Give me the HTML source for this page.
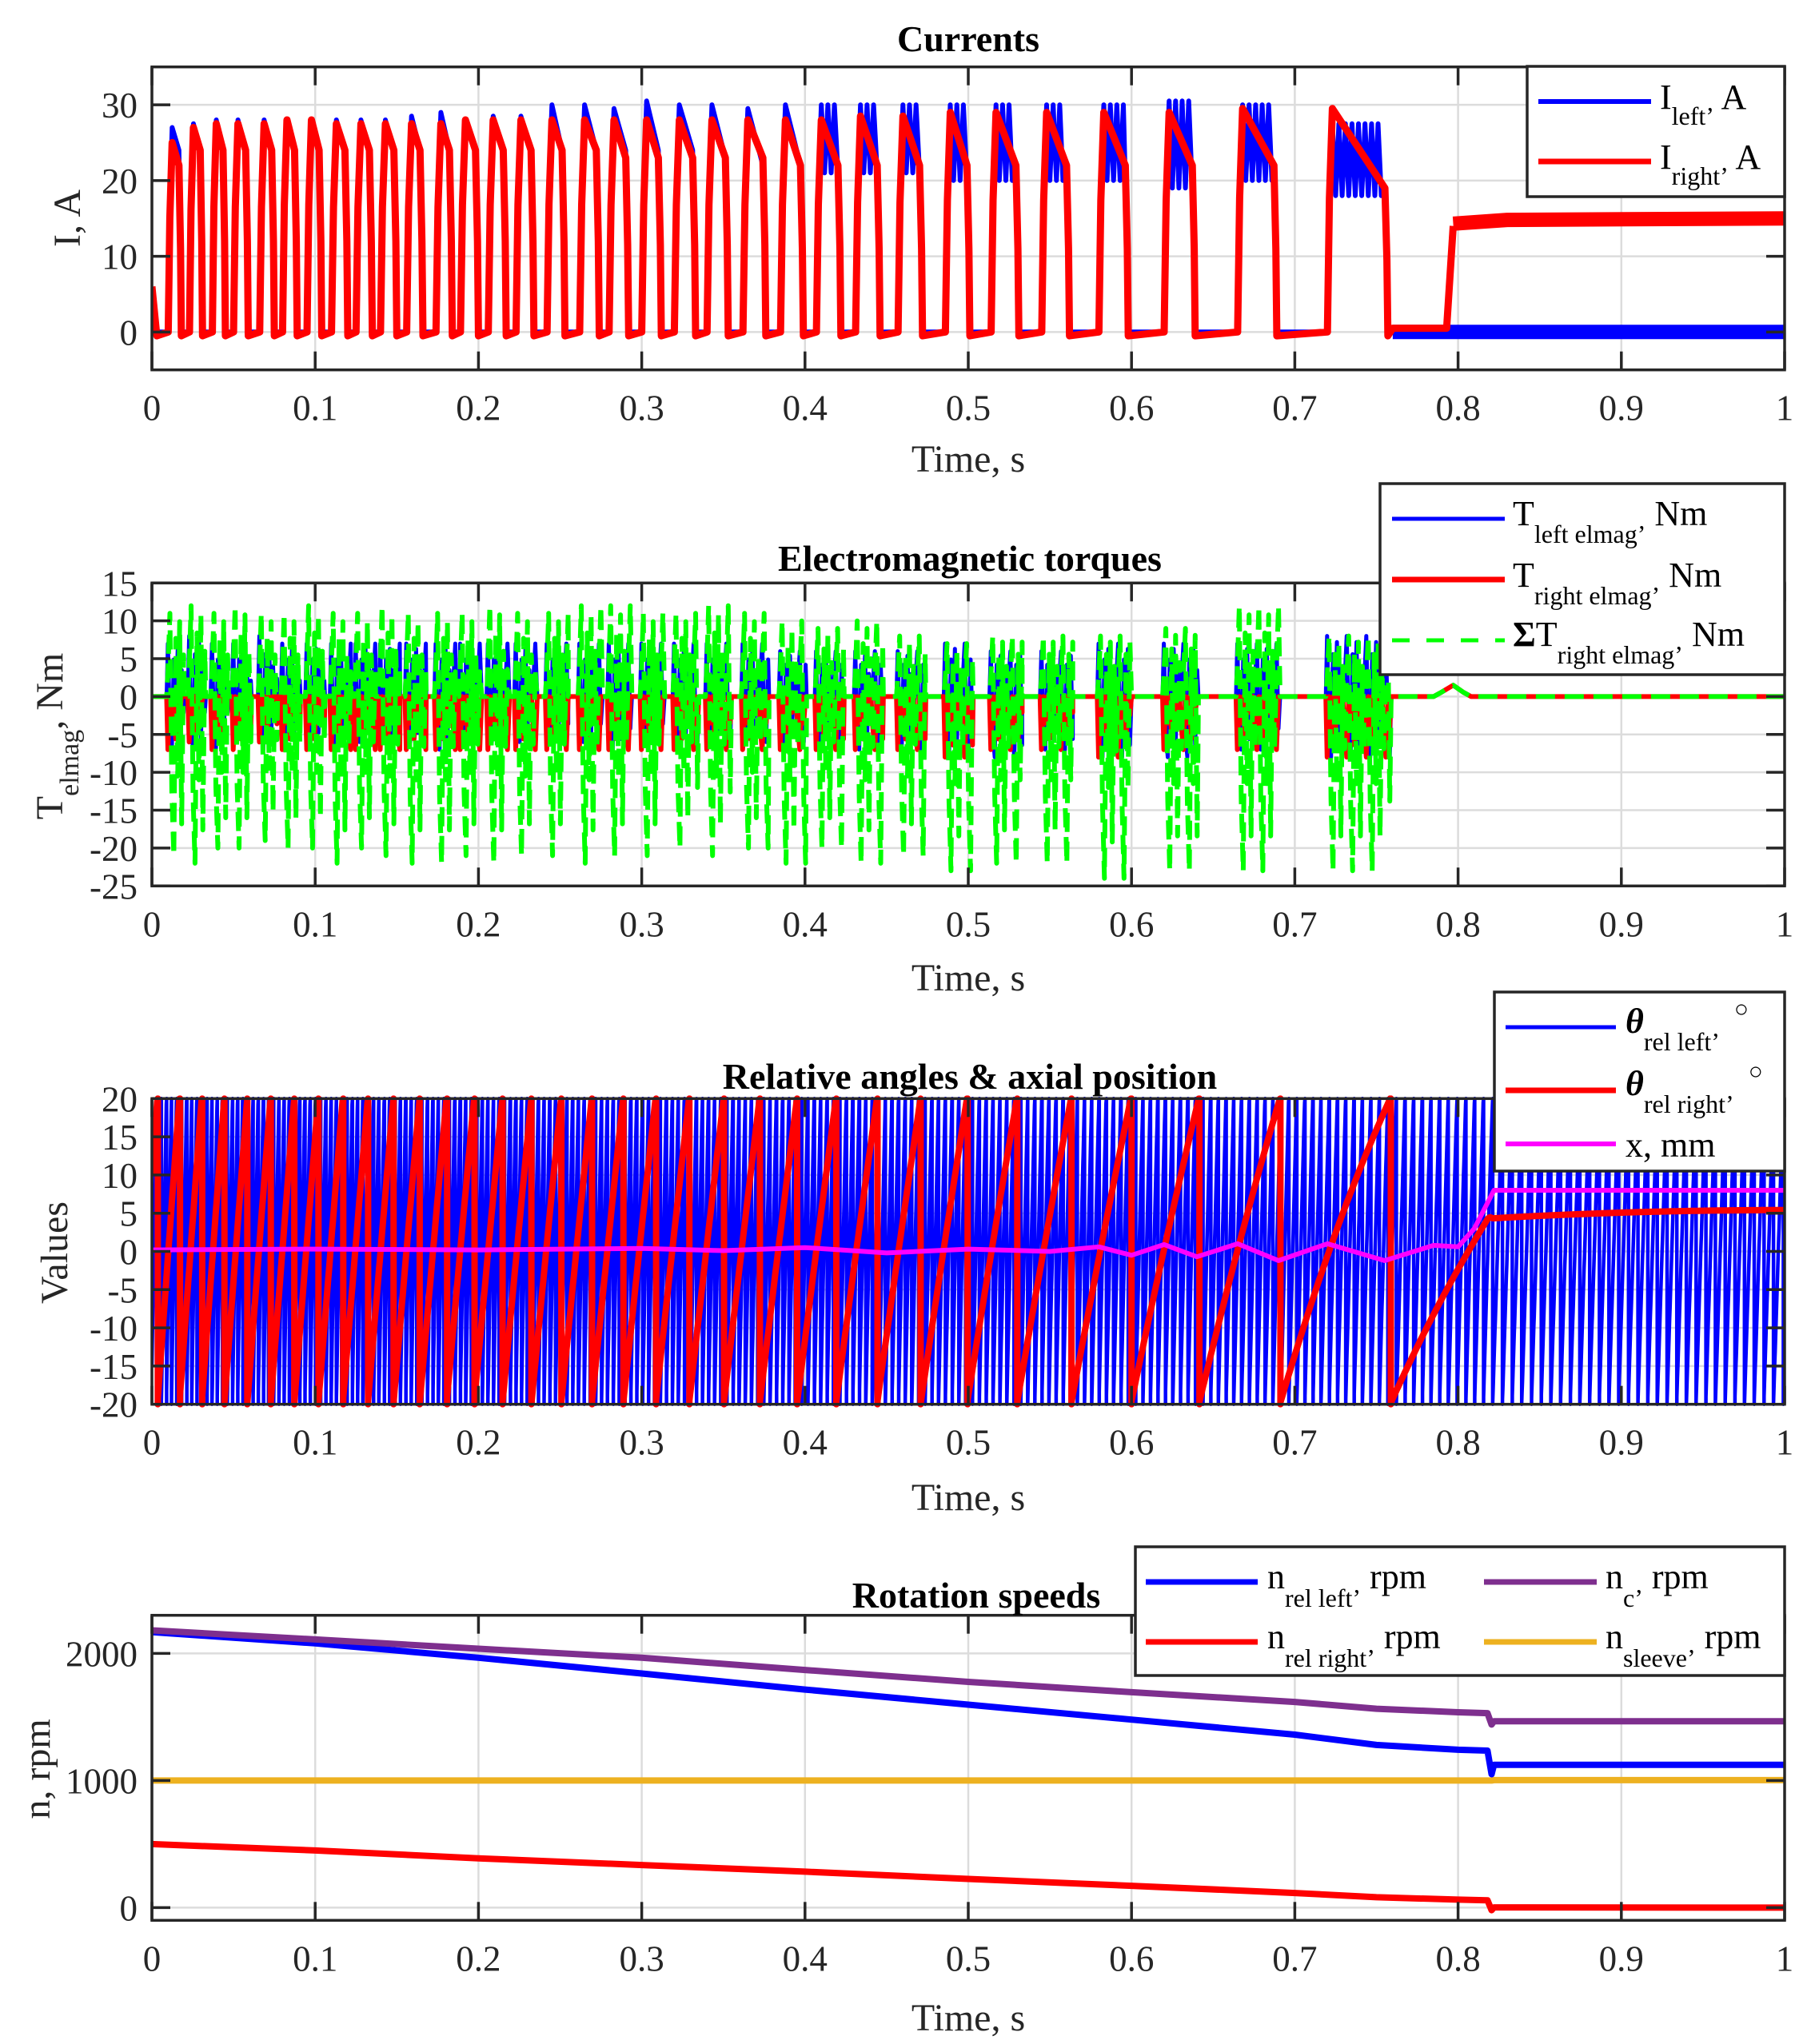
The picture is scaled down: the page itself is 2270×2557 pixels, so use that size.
<!DOCTYPE html>
<html><head><meta charset="utf-8"><style>
html,body{margin:0;padding:0;background:#fff;}
svg{display:block;font-family:"Liberation Serif","Times New Roman",serif;}
</style></head><body>
<svg id="fig" width="2270" height="2557" viewBox="0 0 2270 2557" xmlns="http://www.w3.org/2000/svg" font-family="Liberation Serif, serif">
<rect width="2270" height="2557" fill="#fff"/>
</svg>
<script>
// ---------- data ----------
const xTicks=[0,0.1,0.2,0.3,0.4,0.5,0.6,0.7,0.8,0.9,1];
const xTickLabels=["0","0.1","0.2","0.3","0.4","0.5","0.6","0.7","0.8","0.9","1"];
// current pulses
const pulseStart=[0.010,0.023,0.037,0.050,0.066,0.080,0.095,0.110,0.125,0.140,0.156,0.174,0.189,0.206,0.223,0.242,0.262,0.280,0.300,0.320,0.340,0.362,0.385,0.407,0.431,0.457,0.486,0.514,0.545,0.580,0.620,0.665,0.720];
const pulseEnd=[0.018,0.031,0.045,0.059,0.075,0.089,0.104,0.120,0.135,0.150,0.166,0.184,0.200,0.217,0.234,0.253,0.274,0.292,0.312,0.333,0.353,0.376,0.399,0.422,0.446,0.472,0.501,0.531,0.562,0.598,0.639,0.689,0.757];
const redPeak=[25,27,27.5,27.5,27.5,28,28,27.5,27.5,27.5,27.5,27.5,28,28,28,28,28,28,28,28,28,28,28,28,28.5,28.5,29,29,29,29,29,29.5,29.5];
const redEndLvl=[22,24,24,24,24,24,24,24,24,24,24,24,24,24,24,24,24,23,23,23,23,23,22,22,22,22,22,22,22,22,22,22,19];
const bluePeak=[27,27.5,28,28,28,28,28,28,28,28,28.5,29,28,28.5,28.5,30,30,29.5,30.5,30,30,29.5,30,30,30,30,30,30,30,30,30.5,30,27.5];
const blueLow=[24,24,24,24,24,24,24,24,24,24,24,24,24,24,24,24,24,24,24,24,23,22,22,21,21,21,20,20,20,20,19,20,18];
const redOnLevel=15, redOffLevel=0.5;
// torque bursts
const tqGreenMax=[11,12,11,12,11,11,12,11,11,12,11,11,11,12,11,11,12,12,11,11,12,11,10,9,10,8,7,8,8,8,9,12,8];
const tqGreenMin=[-21,-22,-20,-20,-19,-20,-20,-22,-20,-21,-22,-22,-21,-22,-21,-21,-22,-21,-21,-20,-21,-20,-22,-20,-22,-21,-23,-22,-22,-24,-23,-23,-23];
const tqBlueMax=[7,8,7,7,8,7,7,7,7,7,7,7,7,7,7,7,7,7,7,7,7,7,6,6,6,6,7,6,6,7,7,7,8];
const tqBlueMin=[-7,-7,-7,-6,-7,-6,-6,-7,-6,-6,-6,-7,-6,-6,-6,-6,-6,-7,-6,-6,-6,-6,-6,-7,-7,-7,-8,-8,-7,-8,-8,-7,-8];
const tqRedMin=[-7,-6,-7,-7,-6,-7,-7,-7,-7,-7,-7,-7,-7,-7,-7,-7,-7,-7,-7,-7,-7,-7,-7,-7,-7,-7,-8,-7,-7,-8,-7,-7,-8];
const burstPattern=[0.3,1,-0.6,-1,0.7,-0.5,0.9,-0.8,0.5,-0.3];
// speeds
const tS=[0,0.1,0.2,0.3,0.4,0.5,0.6,0.7,0.75,0.8,0.818,0.8205,0.822,1];
const nC=[2182,2110,2037,1966,1870,1776,1695,1618,1565,1537,1530,1440,1466,1466];
const nLeft=[2168,2079,1966,1842,1716,1597,1479,1361,1280,1242,1235,1050,1124,1124];
const nRight=[500,450,388,335,283,226,172,115,82,63,58,-20,2,0];
const nSleeve=[1000,1000,1000,1000,1000,1000,1000,1000,1000,1000,1000,1000,1003,1003];
// axial position
const tX=[0,0.1,0.2,0.3,0.35,0.4,0.45,0.5,0.55,0.58,0.6,0.62,0.64,0.665,0.69,0.72,0.755,0.785,0.8,0.81,0.822,1];
const xPos=[0.2,0.3,0.2,0.4,0.1,0.5,-0.2,0.3,0,0.6,-0.5,0.9,-0.7,1.0,-1.2,1.0,-1.2,0.8,0.6,3,8,8];
const thetaRightStart=10, thetaLeftStart=-15, wrapLim=20;

// ---------- helpers ----------
const NS='http://www.w3.org/2000/svg';
const svg=document.getElementById('fig');
const L=190,R=2232;
const X=t=>L+(R-L)*t;
function el(tag,attrs,parent){const e=document.createElementNS(NS,tag);for(const k in attrs)e.setAttribute(k,attrs[k]);(parent||svg).appendChild(e);return e;}
function ys(top,bot,min,max){return v=>bot-(v-min)/(max-min)*(bot-top);}
function pathD(pts,Y){return pts.map((p,i)=>(i?'L':'M')+X(p[0]).toFixed(1)+' '+Y(p[1]).toFixed(1)).join('');}
function interp(ts,vs,t){if(t<=ts[0])return vs[0];for(let i=1;i<ts.length;i++){if(t<=ts[i]){const f=(t-ts[i-1])/(ts[i]-ts[i-1]);return vs[i-1]+f*(vs[i]-vs[i-1]);}}return vs[vs.length-1];}

function axes(name,top,bot,min,max,yt){
  const Y=ys(top,bot,min,max);
  const g=el('g',{},svg);
  
  
  const grid=el('g',{stroke:'#dcdcdc','stroke-width':2.5},g);
  
  
  xTicks.forEach(t=>el('line',{x1:X(t),x2:X(t),y1:top,y2:bot},grid));
  yt.forEach(v=>el('line',{x1:L,x2:R,y1:Y(v),y2:Y(v)},grid));
  const dataG=el('g',{'clip-path':'url(#clip-'+name+')'},g);
  
  
  const cp=el('clipPath',{id:'clip-'+name},svg);
  el('rect',{x:L,y:top-4,width:R-L,height:bot-top+8},cp);
  return {Y,g,dataG,top,bot,yt,name};
}
function finishAxes(a){
  const g=el('g',{stroke:'#262626','stroke-width':3.5,fill:'none'},a.g);
  
  
  el('rect',{x:L,y:a.top,width:R-L,height:a.bot-a.top},g);
  xTicks.forEach(t=>{el('line',{x1:X(t),x2:X(t),y1:a.bot,y2:a.bot-23},g);el('line',{x1:X(t),x2:X(t),y1:a.top,y2:a.top+23},g);});
  a.yt.forEach(v=>{el('line',{x1:L,x2:L+23,y1:a.Y(v),y2:a.Y(v)},g);el('line',{x1:R,x2:R-23,y1:a.Y(v),y2:a.Y(v)},g);});
  const tl=el('g',{fill:'#262626','font-size':45},a.g);
  
  
  xTicks.forEach((t,i)=>{const e=el('text',{x:X(t),y:a.bot+63,'text-anchor':'middle'},tl);e.textContent=xTickLabels[i];});
  a.yt.forEach(v=>{const e=el('text',{x:172,y:a.Y(v)+16,'text-anchor':'end'},tl);e.textContent=String(v);});
  const xl=el('text',{x:1211,y:a.xlabelY,'text-anchor':'middle','font-size':48,fill:'#262626'},a.g);
  
  
  xl.textContent='Time, s';
}
function poly(parent,pts,Y,color,w,name,dash){
  const p=el('path',{d:pathD(pts,Y),fill:'none',stroke:color,'stroke-width':w,'stroke-linejoin':'round','stroke-linecap':'butt'},parent);
  if(dash)p.setAttribute('stroke-dasharray',dash);
  
  
  return p;
}

// ---------- plot 1: currents ----------
const a1=axes('currents',83.7,462.7,-5,35,[0,10,20,30]);
a1.xlabelY=590;
{
  let bp=[[0,0]];
  for(let i=0;i<pulseStart.length;i++){
    const s=pulseStart[i],e=pulseEnd[i],w=e-s,r=Math.min(0.003,w*0.3);
    bp.push([s,0],[s+r*0.5,bluePeak[i]*0.7],[s+r,bluePeak[i]]);
    if(w>0.0145){let k=0;for(let t=s+r+0.002;t<e-0.002;t+=0.002){bp.push([t,k%2?bluePeak[i]:blueLow[i]]);k++;}}
    bp.push([e-r*0.6,blueLow[i]],[e,0]);
  }
  bp.push([0.76,0]);
  poly(a1.dataG,bp,a1.Y,'#0000ff',6,'i-left-pulses');
  poly(a1.dataG,[[0.76,0],[1,0]],a1.Y,'#0000ff',18,'i-left-steady');
  let rp=[[0,6],[0.003,-0.5]];
  for(let i=0;i<pulseStart.length;i++){
    const s=pulseStart[i],e=pulseEnd[i],w=e-s,r=Math.min(0.003,w*0.3);
    rp.push([s,0],[s+r*0.4,redPeak[i]*0.6],[s+r,redPeak[i]],[e-r*0.6,redEndLvl[i]],[e-r*0.2,redEndLvl[i]*0.5],[e,-0.5]);
  }
  rp.push([0.76,redOffLevel],[0.793,redOffLevel],[0.797,14]);
  poly(a1.dataG,rp,a1.Y,'#ff0000',9,'i-right-pulses');
  poly(a1.dataG,[[0.797,14.3],[0.83,14.8],[1,redOnLevel]],a1.Y,'#ff0000',18,'i-right-steady');
}
finishAxes(a1);

// ---------- plot 2: torques ----------
const a2=axes('torques',729.3,1108.3,-25,15,[-25,-20,-15,-10,-5,0,5,10,15]);
a2.xlabelY=1239;
{
  function burstPts(minArr,maxArr,off){
    let pts=[[0,0]];
    for(let i=0;i<pulseStart.length;i++){
      const s=pulseStart[i]-0.001,e=pulseEnd[i]+0.002;
      pts.push([s,0]);let k=off;
      for(let t=s+0.0008;t<e;t+=0.0012){const f=burstPattern[k%burstPattern.length];pts.push([t,f>0?f*maxArr[i]:(-f)*minArr[i]]);k++;}
      pts.push([e,0]);
    }
    pts.push([0.785,0],[0.79,0.6],[0.797,1.5],[0.803,0.6],[0.808,0],[1,0]);
    return pts;
  }
  const zeros=pulseStart.map(()=>0);
  poly(a2.dataG,burstPts(tqBlueMin,tqBlueMax,1),a2.Y,'#0000ff',5,'t-left-elmag');
  poly(a2.dataG,burstPts(tqRedMin,zeros,3),a2.Y,'#ff0000',6,'t-right-elmag');
  poly(a2.dataG,burstPts(tqGreenMin,tqGreenMax,0),a2.Y,'#00ff00',6,'sum-t-elmag','24 12');
}
finishAxes(a2);

// ---------- plot 3: angles ----------
const a3=axes('angles',1374.3,1756.7,-20,20,[-20,-15,-10,-5,0,5,10,15,20]);
a3.xlabelY=1889;
{
  function wrapped(nArr,start,dt){
    let th=start,pts=[[0,th]];
    for(let t=dt;t<=1+1e-9;t+=dt){
      th+=6*interp(tS,nArr,t)*dt;
      if(th>wrapLim){pts.push([t,wrapLim]);th-=2*wrapLim;pts.push([t,-wrapLim]);}
      else if(th<-wrapLim){pts.push([t,-wrapLim]);th+=2*wrapLim;pts.push([t,wrapLim]);}
      pts.push([t,th]);
    }
    return pts;
  }
  poly(a3.dataG,wrapped(nLeft,thetaLeftStart,0.0002),a3.Y,'#0000ff',4.5,'theta-rel-left');
  poly(a3.dataG,wrapped(nRight,thetaRightStart,0.0004),a3.Y,'#ff0000',8,'theta-rel-right');
  poly(a3.dataG,tX.map((t,i)=>[t,xPos[i]]),a3.Y,'#ff00ff',6,'axial-position-x');
}
finishAxes(a3);

// ---------- plot 4: speeds ----------
const a4=axes('speeds',2020.7,2402.3,-100,2300,[0,1000,2000]);
a4.xlabelY=2540;
{
  poly(a4.dataG,tS.map((t,i)=>[t,nSleeve[i]]),a4.Y,'#edb120',8,'n-sleeve');
  poly(a4.dataG,tS.map((t,i)=>[t,nRight[i]]),a4.Y,'#ff0000',8,'n-rel-right');
  poly(a4.dataG,tS.map((t,i)=>[t,nLeft[i]]),a4.Y,'#0000ff',8,'n-rel-left');
  poly(a4.dataG,tS.map((t,i)=>[t,nC[i]]),a4.Y,'#7e2f8e',8,'n-c');
}
finishAxes(a4);
</script>
<script>
(function(){
const NS='http://www.w3.org/2000/svg';const svg=document.getElementById('fig');
const g=document.createElementNS(NS,'g');svg.appendChild(g);
g.innerHTML=`
<text x="1211" y="64" text-anchor="middle" font-size="46" font-weight="bold">Currents</text>
<text x="1213" y="714" text-anchor="middle" font-size="46" font-weight="bold">Electromagnetic torques</text>
<text x="1213" y="1362" text-anchor="middle" font-size="46" font-weight="bold">Relative angles &amp; axial position</text>
<text x="1221" y="2011" text-anchor="middle" font-size="46" font-weight="bold">Rotation speeds</text>

<text transform="translate(100,273) rotate(-90)" text-anchor="middle" font-size="48" fill="#262626">I, A</text>
<text transform="translate(78,921) rotate(-90)" text-anchor="middle" font-size="48" fill="#262626">T<tspan font-size="34" dy="20">elmag</tspan><tspan dy="-20">, Nm</tspan></text>
<text transform="translate(84,1567) rotate(-90)" text-anchor="middle" font-size="48" fill="#262626">Values</text>
<text transform="translate(62,2213) rotate(-90)" text-anchor="middle" font-size="48" fill="#262626">n, rpm</text>

<g>
<rect x="1910" y="83" width="322" height="163" fill="#fff" stroke="#262626" stroke-width="3.5"/>
<line x1="1924" x2="2065" y1="127" y2="127" stroke="#0000ff" stroke-width="6"/>
<line x1="1924" x2="2065" y1="202" y2="202" stroke="#ff0000" stroke-width="7"/>
<text x="2076" y="136" font-size="44">I<tspan font-size="32" dy="20">left’</tspan><tspan dy="-20"> A</tspan></text>
<text x="2076" y="211" font-size="44">I<tspan font-size="32" dy="20">right’</tspan><tspan dy="-20"> A</tspan></text>
</g>

<g>
<rect x="1726" y="605" width="506" height="239" fill="#fff" stroke="#262626" stroke-width="3.5"/>
<line x1="1741" x2="1882" y1="649" y2="649" stroke="#0000ff" stroke-width="5"/>
<line x1="1741" x2="1882" y1="725" y2="725" stroke="#ff0000" stroke-width="7"/>
<line x1="1741" x2="1882" y1="801" y2="801" stroke="#00ff00" stroke-width="5" stroke-dasharray="22 21"/>
<text x="1892" y="657" font-size="44">T<tspan font-size="32" dy="22">left elmag’</tspan><tspan dy="-22"> Nm</tspan></text>
<text x="1892" y="734" font-size="44">T<tspan font-size="32" dy="22">right elmag’</tspan><tspan dy="-22"> Nm</tspan></text>
<text x="1892" y="808" font-size="44"><tspan font-weight="bold">Σ</tspan>T<tspan font-size="32" dy="22">right elmag’</tspan><tspan dy="-22"> Nm</tspan></text>
</g>

<g>
<rect x="1869" y="1241" width="363" height="224" fill="#fff" stroke="#262626" stroke-width="3.5"/>
<line x1="1883" x2="2021" y1="1285" y2="1285" stroke="#0000ff" stroke-width="5"/>
<line x1="1883" x2="2021" y1="1364" y2="1364" stroke="#ff0000" stroke-width="7"/>
<line x1="1883" x2="2021" y1="1431" y2="1431" stroke="#ff00ff" stroke-width="6"/>
<text x="2033" y="1292" font-size="44"><tspan font-weight="bold" font-style="italic">θ</tspan><tspan font-size="32" dy="22">rel left’</tspan><tspan dy="-42" font-size="30" dx="18">○</tspan></text>
<text x="2033" y="1370" font-size="44"><tspan font-weight="bold" font-style="italic">θ</tspan><tspan font-size="32" dy="22">rel right’</tspan><tspan dy="-42" font-size="30" dx="18">○</tspan></text>
<text x="2033" y="1447" font-size="44">x, mm</text>
</g>

<g>
<rect x="1420" y="1935" width="812" height="161" fill="#fff" stroke="#262626" stroke-width="3.5"/>
<line x1="1433" x2="1573" y1="1979" y2="1979" stroke="#0000ff" stroke-width="7"/>
<line x1="1433" x2="1573" y1="2054" y2="2054" stroke="#ff0000" stroke-width="7"/>
<line x1="1856" x2="1997" y1="1979" y2="1979" stroke="#7e2f8e" stroke-width="7"/>
<line x1="1856" x2="1997" y1="2054" y2="2054" stroke="#edb120" stroke-width="7"/>
<text x="1585" y="1987" font-size="44">n<tspan font-size="32" dy="23">rel left’</tspan><tspan dy="-23"> rpm</tspan></text>
<text x="1585" y="2062" font-size="44">n<tspan font-size="32" dy="23">rel right’</tspan><tspan dy="-23"> rpm</tspan></text>
<text x="2008" y="1987" font-size="44">n<tspan font-size="32" dy="23">c’</tspan><tspan dy="-23"> rpm</tspan></text>
<text x="2008" y="2062" font-size="44">n<tspan font-size="32" dy="23">sleeve’</tspan><tspan dy="-23"> rpm</tspan></text>
</g>`;
})();
</script>
</body></html>
